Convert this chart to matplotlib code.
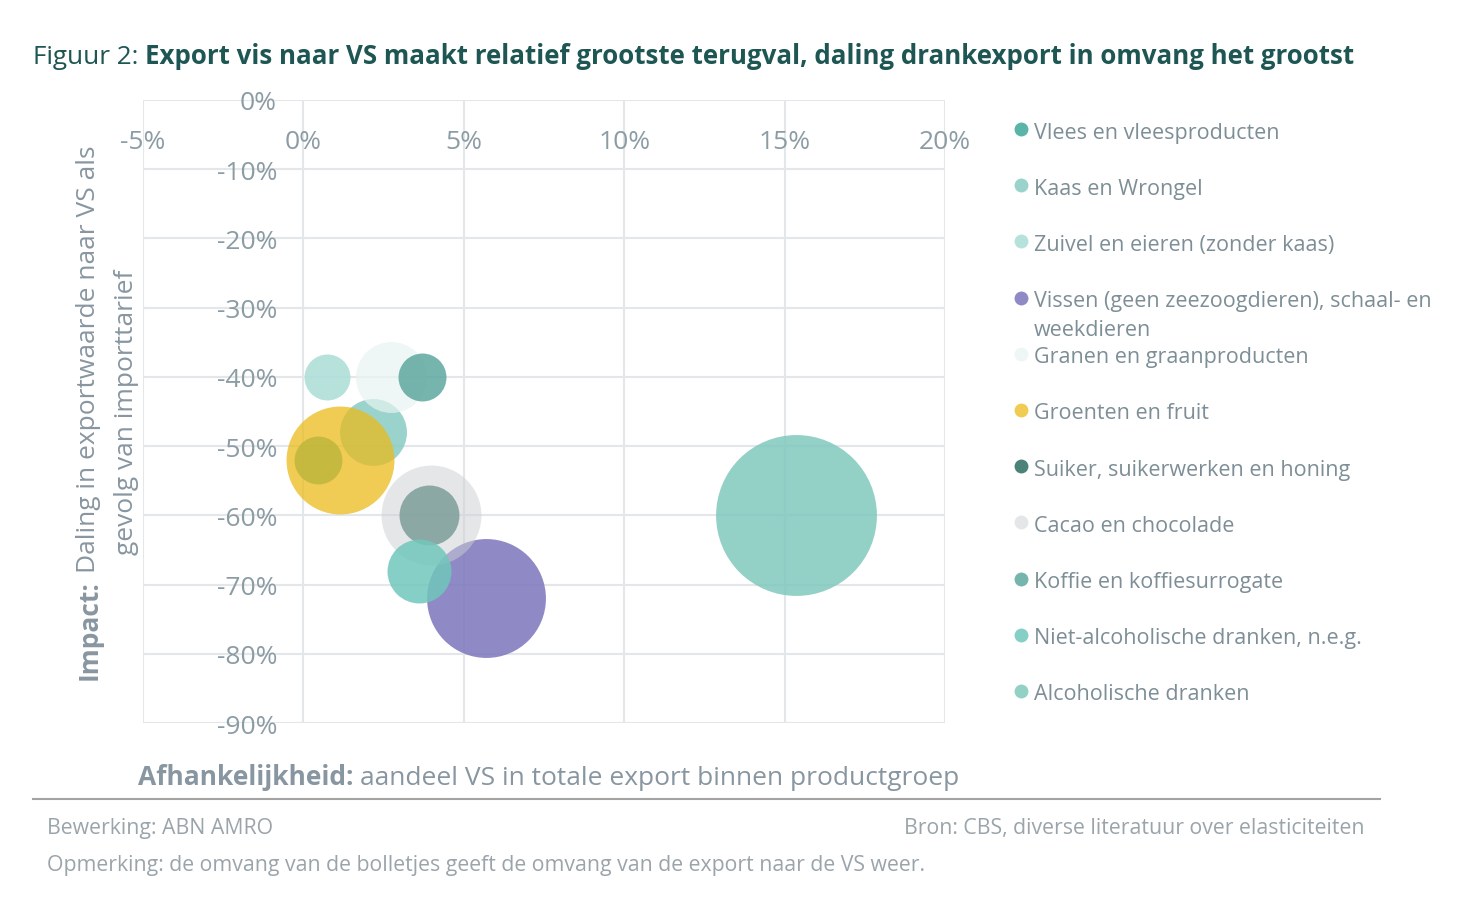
import matplotlib
matplotlib.use("Agg")
import matplotlib.pyplot as plt
from matplotlib.ticker import FixedLocator, FuncFormatter

plt.rcParams['font.family'] = ['Open Sans', 'DejaVu Sans']

# productgroepen in legendavolgorde
productgroepen = [
    'Vlees en vleesproducten',
    'Kaas en Wrongel',
    'Zuivel en eieren (zonder kaas)',
    'Vissen (geen zeezoogdieren), schaal- en\nweekdieren',
    'Granen en graanproducten',
    'Groenten en fruit',
    'Suiker, suikerwerken en honing',
    'Cacao en chocolade',
    'Koffie en koffiesurrogate',
    'Niet-alcoholische dranken, n.e.g.',
    'Alcoholische dranken',
]
# aandeel VS in totale export (%)
afhankelijkheid = [0.44, 2.18, 0.73, 5.70, 2.74, 1.14, 3.91, 3.97, 3.69, 3.60, 15.34]
# daling exportwaarde naar VS (%)
impact = [-52, -48, -40, -72, -40, -52, -60, -60, -40, -68, -60]
# omvang export naar VS (relatief, bepaalt bolletje)
omvang = [576, 1122, 529, 3540, 1260, 2916, 900, 2500, 576, 1024, 6480]

x_ticks = [-5, 0, 5, 10, 15, 20]
y_ticks = [0, -10, -20, -30, -40, -50, -60, -70, -80, -90]

kleuren = ['#3da799', '#88cbc3', '#abddd6', '#7b76bb', '#e7f4f1', '#ebbc1c',
           '#2c6c61', '#cdcfd3', '#5ea8a0', '#71c7bc', '#80c9be']
dekking = [0.85, 0.85, 0.85, 0.85, 0.7, 0.75, 0.85, 0.5, 0.85, 0.85, 0.85]

W, H = 1474, 920
fig = plt.figure(figsize=(W / 100, H / 100), dpi=100)

# plotgebied
ax = fig.add_axes([143 / W, 1 - 724 / H, (945 - 143) / W, (724 - 101) / H])
ax.set_xlim(-5, 20)
ax.set_ylim(-90, 0)
ax.xaxis.set_major_locator(FixedLocator(x_ticks))
ax.yaxis.set_major_locator(FixedLocator(y_ticks))
pct = FuncFormatter(lambda v, p: '%d%%' % v)
ax.xaxis.set_major_formatter(pct)
ax.yaxis.set_major_formatter(pct)
for s in ax.spines.values():
    s.set_visible(False)
ax.spines['left'].set_position(('data', 0))
ax.spines['bottom'].set_position(('data', 0))
ax.tick_params(length=0, labelsize=19, labelcolor='#8c9ca4')
ax.tick_params(axis='x', pad=21)
ax.tick_params(axis='y', pad=19)
ax.grid(True, color='#e4e7ea', linewidth=1.5, zorder=0)
ax.set_axisbelow(True)

for i in range(len(productgroepen)):
    ax.scatter(afhankelijkheid[i], impact[i], s=omvang[i] * 2.07,
               color=kleuren[i], alpha=dekking[i], linewidths=0, zorder=2 + i)

# overlay in pixelcoordinaten voor teksten en legenda
lax = fig.add_axes([0, 0, 1, 1], zorder=-1)
lax.set_xlim(0, W)
lax.set_ylim(H, 0)
lax.axis('off')
lax.patch.set_alpha(0)

renderer = fig.canvas.get_renderer()


def width_of(t):
    bb = t.get_window_extent(renderer)
    return bb.width, bb.height


# titel
titel_kleur = '#1d5652'
t1 = lax.text(33, 64, 'Figuur 2:', fontsize=18.8, color=titel_kleur, va='baseline', ha='left')
w1, _ = width_of(t1)
lax.text(33 + w1 + 7, 64, 'Export vis naar VS maakt relatief grootste terugval, daling drankexport in omvang het grootst',
         fontsize=18.6, fontweight='bold', color=titel_kleur, va='baseline', ha='left')

# x-as titel
as_kleur = '#8796a0'
t2 = lax.text(138, 785, 'Afhankelijkheid:', fontsize=19, fontweight='bold', color=as_kleur, va='baseline', ha='left')
w2, _ = width_of(t2)
lax.text(138 + w2 + 7, 785, 'aandeel VS in totale export binnen productgroep', fontsize=19,
         color=as_kleur, va='baseline', ha='left')

# y-as titel (gedraaid, gecentreerd)
yb = lax.text(0, 0, 'Impact:', fontsize=19, fontweight='bold', color=as_kleur,
              rotation=90, rotation_mode='anchor', ha='left', va='center')
yr = lax.text(0, 0, 'Daling in exportwaarde naar VS als', fontsize=19, color=as_kleur,
              rotation=90, rotation_mode='anchor', ha='left', va='center')
_, hb = width_of(yb)
_, hr = width_of(yr)
start = 413 + (hb + 7 + hr) / 2
yb.set_position((89, start))
yr.set_position((89, start - hb - 7))
lax.text(127, 412, 'gevolg van importtarief', fontsize=19, color=as_kleur,
         rotation=90, ha='center', va='center')

# legenda
for i, naam in enumerate(productgroepen):
    y = 130 + i * 56.2
    lax.scatter(1021, y, s=100, color=kleuren[i], alpha=dekking[i], linewidths=0)
    for j, regel in enumerate(naam.split('\n')):
        lax.text(1034, y + 3 + j * 28.8, regel, fontsize=15.5, color='#7d8e96', ha='left', va='center')

# scheidingslijn en voetnoten
lax.plot([33, 1380], [800, 800], color='#a3a3a3', linewidth=1.5)
voet_kleur = '#9aa4aa'
lax.text(47, 829, 'Bewerking: ABN AMRO', fontsize=15.3, color=voet_kleur, va='center', ha='left')
lax.text(1365, 829, 'Bron: CBS, diverse literatuur over elasticiteiten', fontsize=15.3,
         color=voet_kleur, va='center', ha='right')
lax.text(47, 866, 'Opmerking: de omvang van de bolletjes geeft de omvang van de export naar de VS weer.',
         fontsize=15.3, color=voet_kleur, va='center', ha='left')

fig.savefig('out.png', dpi=100)
